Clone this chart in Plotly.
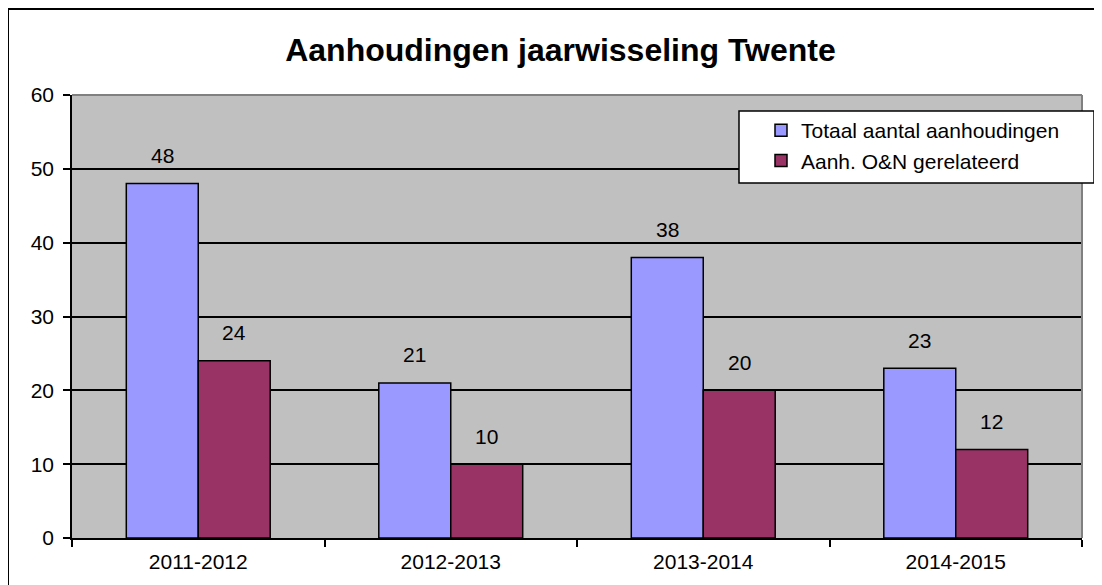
import plotly.graph_objects as go

categories = ["2011-2012", "2012-2013", "2013-2014", "2014-2015"]
totaal = [48, 21, 38, 23]
on_gerelateerd = [24, 10, 20, 12]
series_names = ["Totaal aantal aanhoudingen", "Aanh. O&N gerelateerd"]
y_ticks = [0, 10, 20, 30, 40, 50, 60]

FONT = "Arial, Liberation Sans, sans-serif"
OFF = 8  # page body margin offset
W, H = 1102, 585
L, T = 72 - OFF, 95 - OFF
R = W - (1082 - OFF)
B = H - (538 - OFF)
pw, ph = W - L - R, H - T - B
FS = 21

def sx(x):  # screen px -> paper x
    return (x - OFF - L) / pw

def sy(y):  # screen px -> paper y
    return (H - B - (y - OFF)) / ph

fig = go.Figure()
fig.add_trace(go.Bar(
    x=categories, y=totaal, name=series_names[0],
    marker=dict(color="#9999FF", line=dict(color="black", width=1.5)),
))
fig.add_trace(go.Bar(
    x=categories, y=on_gerelateerd, name=series_names[1],
    marker=dict(color="#993366", line=dict(color="black", width=1.5)),
))

bar_half = 0.285 * pw / 4 / 2
for vals, shift in ((totaal, -bar_half), (on_gerelateerd, bar_half)):
    for c, v in zip(categories, vals):
        fig.add_annotation(x=c, y=v, text=str(v), showarrow=False,
                           xshift=shift, yshift=28, yanchor="middle",
                           font=dict(family=FONT, size=FS, color="black"))

fig.update_layout(
    width=W, height=H,
    margin=dict(l=L, r=R, t=T, b=B, pad=0),
    paper_bgcolor="white", plot_bgcolor="#C0C0C0",
    barmode="group", bargap=0.43, bargroupgap=0,
    font=dict(family=FONT, size=FS, color="black"),
    title=dict(text="<b>Aanhoudingen jaarwisseling Twente</b>",
               font=dict(family=FONT, size=32, color="black"),
               x=(560.5 - OFF) / W, xanchor="center",
               y=1 - (49.5 - OFF) / H, yanchor="middle"),
    showlegend=True,
    legend=dict(x=sx(761), y=sy(110), xanchor="left", yanchor="top",
                bgcolor="rgba(0,0,0,0)", borderwidth=0,
                font=dict(family=FONT, size=FS, color="black"),
                traceorder="normal"),
)
fig.update_xaxes(
    type="category", tickson="boundaries", ticks="outside", ticklen=7,
    tickcolor="black", tickwidth=1.5, showline=True, linecolor="black",
    linewidth=1.5, showgrid=False, ticklabelstandoff=4,
    tickfont=dict(family=FONT, size=FS, color="black"),
)
fig.update_yaxes(
    range=[0, 60], tickvals=y_ticks, ticks="outside", ticklen=7,
    tickcolor="black", tickwidth=1.5, showline=True, linecolor="black",
    linewidth=1.5, showgrid=True, gridcolor="black", gridwidth=1.5,
    zeroline=False, ticklabelstandoff=5,
    tickfont=dict(family=FONT, size=FS, color="black"),
)

# gray plot-area outline (top and right)
fig.add_shape(type="line", xref="paper", yref="paper", x0=0, x1=1, y0=1, y1=1,
              line=dict(color="#808080", width=2), layer="above")
fig.add_shape(type="line", xref="paper", yref="paper", x0=1, x1=1, y0=0, y1=1,
              line=dict(color="#808080", width=2), layer="above")
# legend frame
fig.add_shape(type="rect", xref="paper", yref="paper",
              x0=sx(739), x1=sx(1094), y0=sy(183), y1=sy(111),
              line=dict(color="black", width=1.5), fillcolor="white",
              layer="above")
# outer chart border
fig.add_shape(type="rect", xref="paper", yref="paper",
              x0=sx(8), x1=sx(1130), y0=sy(620), y1=sy(9),
              line=dict(color="black", width=2), fillcolor="rgba(0,0,0,0)",
              layer="above")

fig.write_html("out.html")
